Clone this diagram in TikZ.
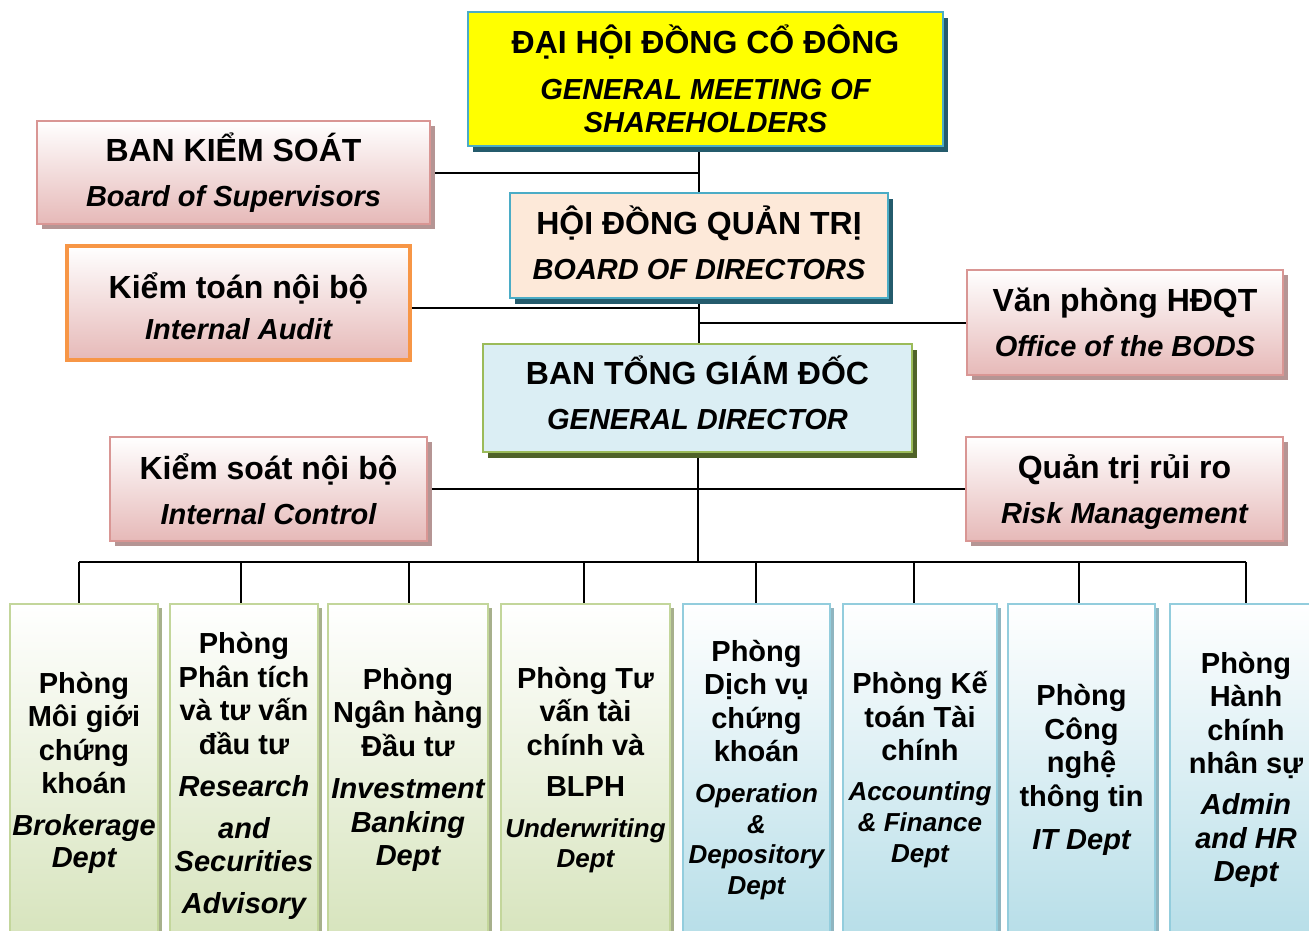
\documentclass[tikz,border=0pt]{standalone}
\usepackage{fontspec}
\setmainfont{Liberation Sans}
\usetikzlibrary{shadows}
\pgfdeclarelayer{background}
\pgfsetlayers{background,main}
\definecolor{tealB}{HTML}{4BACC6}
\definecolor{tealS}{HTML}{245B6C}
\definecolor{peach}{HTML}{FDE9D9}
\definecolor{ltblue}{HTML}{DBEEF4}
\definecolor{olive}{HTML}{9BBB59}
\definecolor{oliveS}{HTML}{4F6228}
\definecolor{pinkF}{HTML}{E6B9B8}
\definecolor{pinkD}{HTML}{D99694}
\definecolor{pinkS}{HTML}{B59594}
\definecolor{orangeB}{HTML}{F79646}
\definecolor{greenF}{HTML}{D7E4BD}
\definecolor{greenD}{HTML}{C3D69B}
\definecolor{greenS}{HTML}{A7B08C}
\definecolor{blueF}{HTML}{B7DEE8}
\definecolor{blueD}{HTML}{93CDDD}
\definecolor{blueS}{HTML}{8FB5C0}
\definecolor{pureyellow}{RGB}{255,255,0}
\newcommand\itA{\fontsize{29}{45}\selectfont\itshape}
\newcommand\itB{\fontsize{26}{33.5}\selectfont\itshape}
\newcommand\itC{\itshape}
\newcommand\lift[2]{\raisebox{#1}[\height][\depth]{#2}}
\tikzset{
  box/.style={draw, line width=2.5pt, inner sep=0pt, align=center,
    font=\fontsize{32}{45}\selectfont\bfseries},
  gmbox/.style={box, draw=tealB, fill=pureyellow,
    drop shadow={shadow xshift=5pt, shadow yshift=-6pt, fill=tealS, opacity=1}},
  bodbox/.style={box, draw=tealB, fill=peach,
    drop shadow={shadow xshift=5pt, shadow yshift=-6pt, fill=tealS, opacity=1}},
  gdbox/.style={box, draw=olive, fill=ltblue,
    drop shadow={shadow xshift=5pt, shadow yshift=-6pt, fill=oliveS, opacity=1}},
  pinkbox/.style={box, draw=pinkD, top color=white, bottom color=pinkF,
    drop shadow={shadow xshift=5pt, shadow yshift=-5pt, fill=pinkS, opacity=1}},
  auditbox/.style={box, draw=orangeB, line width=4pt, top color=white, bottom color=pinkF},
  deptbox/.style={draw, line width=2.5pt, inner sep=0pt, align=center,
    minimum height=332pt, font=\fontsize{29}{33.5}\selectfont\bfseries},
  greenbox/.style={deptbox, draw=greenD, top color=white, bottom color=greenF,
    drop shadow={shadow xshift=4pt, shadow yshift=-4pt, fill=greenS, opacity=1}},
  bluebox/.style={deptbox, draw=blueD, top color=white, bottom color=blueF,
    drop shadow={shadow xshift=4pt, shadow yshift=-4pt, fill=blueS, opacity=1}},
  link/.style={draw=black, line width=2pt}
}
\begin{document}
\begin{tikzpicture}[x=1pt,y=-1pt]
\useasboundingbox (0,0) rectangle (1309,931);
% top boxes
\node[gmbox, minimum width=475pt, minimum height=134pt] (gm) at (705.5,79)
  {ĐẠI HỘI ĐỒNG CỔ ĐÔNG\\[1.5pt] \itA GENERAL MEETING OF\\[-12pt] \itA SHAREHOLDERS};
\node[pinkbox, minimum width=393pt, minimum height=103pt] (bks) at (233.5,172.5)
  {BAN KIỂM SOÁT\\ \itA Board of Supervisors};
\node[bodbox, minimum width=378pt, minimum height=105pt] (bod) at (699,245.5)
  {\lift{3pt}{HỘI ĐỒNG QUẢN TRỊ}\\ \lift{3pt}{\itA BOARD OF DIRECTORS}};
\node[auditbox, minimum width=343pt, minimum height=114pt] (ktnb) at (238.5,303)
  {\lift{-3pt}{Kiểm toán nội bộ}\\[-4pt] \lift{-3pt}{\itA Internal Audit}};
\node[pinkbox, minimum width=316pt, minimum height=105pt] (vp) at (1125,322.5)
  {Văn phòng HĐQT\\ \itA Office of the BODS};
\node[gdbox, minimum width=429pt, minimum height=108pt] (gd) at (697.5,398)
  {\lift{5pt}{BAN TỔNG GIÁM ĐỐC}\\ \lift{5pt}{\itA GENERAL DIRECTOR}};
\node[pinkbox, minimum width=317pt, minimum height=104pt] (ksnb) at (268.5,489)
  {Kiểm soát nội bộ\\ \itA Internal Control};
\node[pinkbox, minimum width=317pt, minimum height=104pt] (qtrr) at (1124.5,489)
  {\lift{-3pt}{Quản trị rủi ro}\\ \lift{-3pt}{\itA Risk Management}};
% departments
\node[greenbox, minimum width=148pt] (b1) at (84,770)
  {\lift{-3pt}{Phòng}\\\lift{-3pt}{Môi giới}\\\lift{-3pt}{chứng}\\\lift{-3pt}{khoán}\\[8.5pt]
   \lift{-3pt}{\itC Brokerage}\\[-1.5pt] \lift{-3pt}{\itC Dept}};
\node[greenbox, minimum width=148pt] (b2) at (244,770)
  {\lift{-6pt}{Phòng}\\\lift{-6pt}{Phân tích}\\\lift{-6pt}{và tư vấn}\\\lift{-6pt}{đầu tư}\\[8.5pt]
   \lift{-6pt}{\itC Research}\\[8.5pt] \lift{-6pt}{\itC and}\\ \lift{-6pt}{\itC Securities}\\[8.5pt]
   \lift{-6pt}{\itC Advisory}};
\node[greenbox, minimum width=160pt] (b3) at (408,770)
  {Phòng\\Ngân hàng\\Đầu tư\\[9pt] \itC Investment\\ \itC Banking\\ \itC Dept};
\node[greenbox, minimum width=169pt] (b4) at (585.5,770)
  {Phòng Tư\\vấn tài\\chính và\\[7.5pt] BLPH\\[7.5pt] \itB Underwriting\\[-3.5pt] \itB Dept};
\node[bluebox, minimum width=147pt] (b5) at (756.5,770)
  {Phòng\\Dịch vụ\\chứng\\khoán\\[7.5pt] \itB Operation\\[-3pt] \itB \&\\[-3pt] \itB Depository\\[-3pt] \itB Dept};
\node[bluebox, minimum width=154pt] (b6) at (920,770)
  {Phòng Kế\\toán Tài\\chính\\[6.5pt] \itB Accounting\\[-2.5pt] \itB \& Finance\\[-2.5pt] \itB Dept};
\node[bluebox, minimum width=147pt] (b7) at (1081.5,770)
  {Phòng\\Công\\nghệ\\thông tin\\[9.5pt] \itC IT Dept};
\node[bluebox, minimum width=152pt] (b8) at (1246,770)
  {Phòng\\Hành\\chính\\nhân sự\\[7.5pt] \itC Admin\\ \itC and HR\\ \itC Dept};
\coordinate (bus) at (698,562);
% connectors
\begin{pgfonlayer}{background}
\fill[white] (0,0) rectangle (1309,931);
\draw[link] (gm.south -| bod.north) -- (bod.north);
\draw[link] (bks.east) -- (bks.east -| bod.north);
\draw[link] (bod.south) -- (bod.south |- gd.north);
\draw[link] ([yshift=-5pt]ktnb.east) -- ([yshift=-5pt]ktnb.east -| bod.south);
\draw[link] (bod.south |- vp.west) -- (vp.west);
\draw[link] (gd.south) -- (gd.south |- bus);
\draw[link] (ksnb.east) -- (qtrr.west);
\draw[link] ([xshift=-5pt]b1.north |- bus) -- (b8.north |- bus);
\foreach \b/\dx in {b1/-5,b2/-3,b3/1,b4/-2,b5/-1,b6/-6,b7/-3,b8/0}
  \draw[link] ([xshift=\dx pt]\b.north |- bus) -- ([xshift=\dx pt]\b.north);
\end{pgfonlayer}
\end{tikzpicture}
\end{document}
